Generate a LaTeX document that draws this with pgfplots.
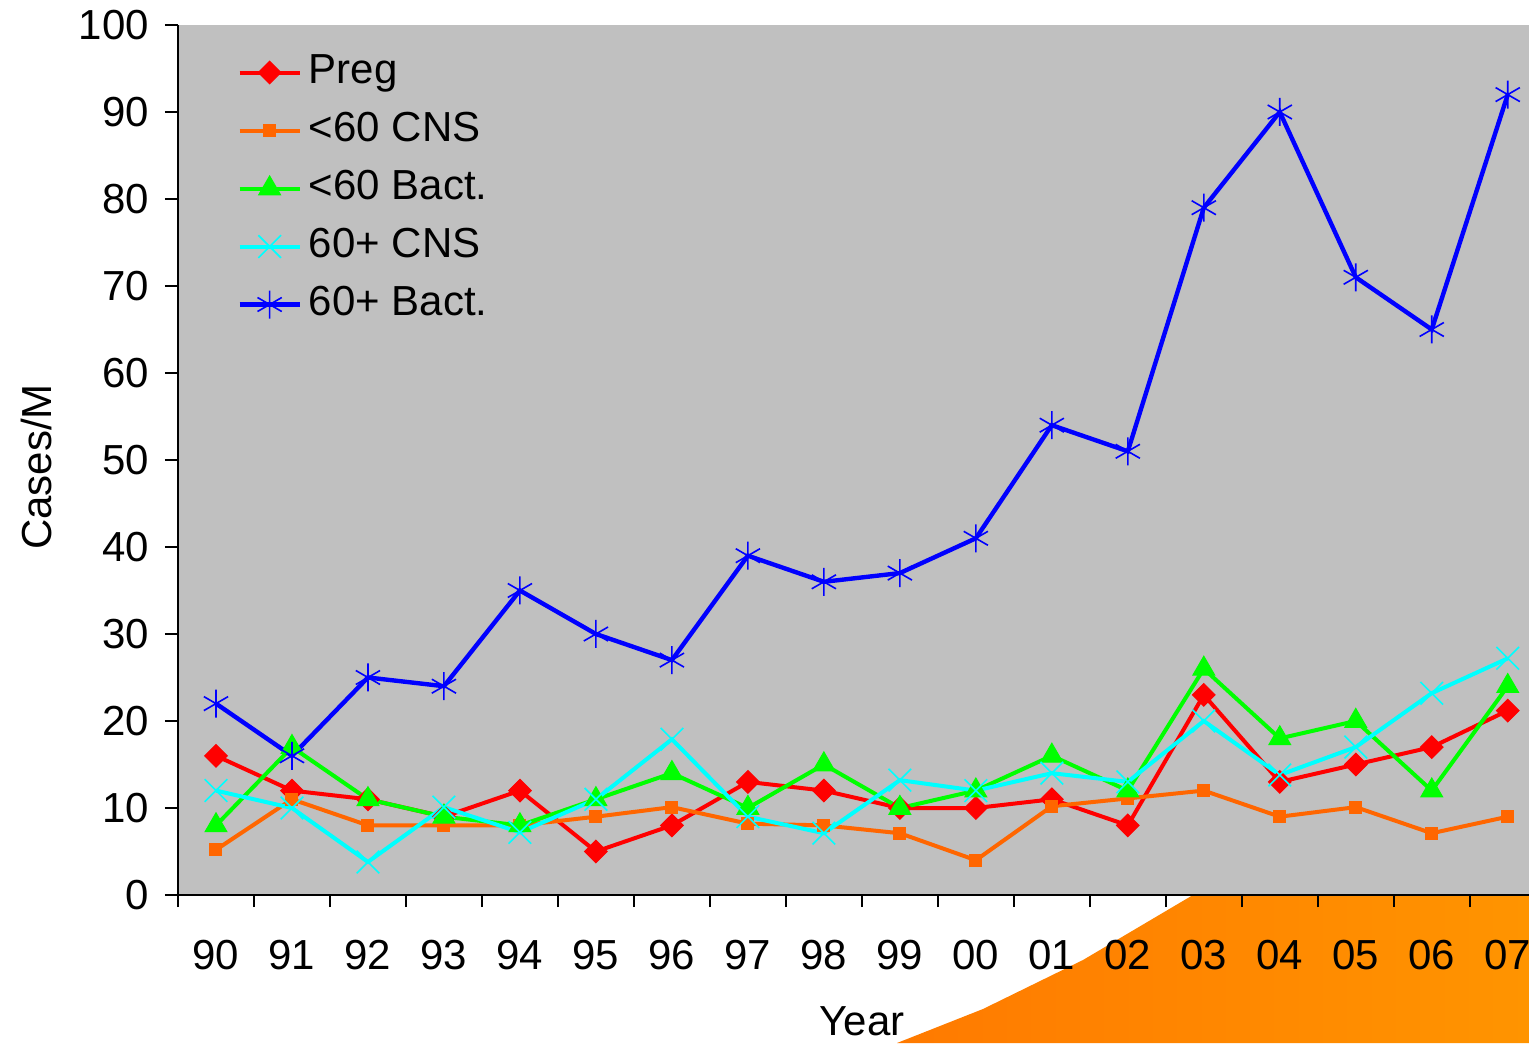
\documentclass[border=0pt]{standalone}
\usepackage{fontspec}
\setmainfont{Liberation Sans}
\usepackage{pgfplots}
\pgfplotsset{compat=1.18}
\definecolor{bggray}{RGB}{192,192,192}
\definecolor{cred}{RGB}{255,0,0}
\definecolor{corange}{RGB}{255,102,0}
\definecolor{cgreen}{RGB}{0,255,0}
\definecolor{ccyan}{RGB}{0,255,255}
\definecolor{cblue}{RGB}{0,0,255}
\definecolor{decoA}{RGB}{255,122,0}
\definecolor{decoB}{RGB}{255,148,0}
\newcommand{\fsz}{\fontsize{21pt}{25pt}\selectfont}
\begin{document}
\begin{tikzpicture}
\useasboundingbox (-89pt,-74pt) rectangle (675.5pt,447.5pt);
\shade[left color=decoA, right color=decoB] (359.5pt,-74pt) -- (402.5pt,-57pt) -- (452.5pt,-32.5pt) -- (507.5pt,0pt) -- (675.5pt,0pt) -- (675.5pt,-74pt) -- cycle;
\begin{axis}[
  at={(0pt,0pt)}, anchor=south west,
  scale only axis, width=675.5pt, height=435pt,
  xmin=-0.5, xmax=17.28, ymin=0, ymax=100,
  axis x line*=bottom, axis y line*=left,
  axis line style={-, line width=1pt, black},
  axis background/.style={fill=bggray},
  tick align=outside,
  xtick={0,...,17},
  xticklabels={90,91,92,93,94,95,96,97,98,99,00,01,02,03,04,05,06,07},
  major x tick style={draw=none},
  minor xtick={-0.5,0.5,...,16.5},
  minor tick length=6pt,
  major tick length=6.5pt,
  ytick={0,10,...,100},
  tick style={line width=1pt, black},
  tick label style={font=\fsz},
  /pgf/number format/assume math mode=true,
  xticklabel style={yshift=-12.5pt},
  yticklabel style={xshift=-4.5pt},
  xlabel={Year},
  xlabel style={font=\fsz, at={(axis description cs:0.5063,0)}, anchor=base, yshift=-70pt},
  ylabel={Cases/M},
  ylabel style={font=\fsz, at={(axis description cs:-0.105,0.492)}, anchor=center},
  legend style={font=\fsz, draw=none, fill=none, at={(axis description cs:0.0437,0.9717)}, anchor=north west,
    inner sep=0pt, row sep=6.5pt, column sep=2pt,
    nodes={inner sep=1.5pt, text height=15pt, text depth=4.5pt}},
  legend cell align=left,
  legend image code/.code={\draw[mark repeat=2,mark phase=2] plot coordinates {(0pt,0pt) (15pt,0pt) (30pt,0pt)};},
]
\addplot[cred, line width=2pt, mark=square*, mark size=4pt, mark options={rotate=45, solid, fill=cred, line width=0.5pt}]
  coordinates {(0,16) (1,12) (2,11) (3,9) (4,12) (5,5) (6,8) (7,13) (8,12) (9,10) (10,10) (11,11) (12,8) (13,23) (14,13) (15,15) (16,17) (17,21.2)};
\addlegendentry{Preg}
\addplot[corange, line width=2pt, mark=square*, mark size=3pt, mark options={solid, fill=corange, line width=0.5pt}]
  coordinates {(0,5.2) (1,11) (2,8) (3,8) (4,8) (5,9) (6,10.1) (7,8.2) (8,8) (9,7.1) (10,4) (11,10.2) (12,11.1) (13,12) (14,9) (15,10.1) (16,7.1) (17,9)};
\addlegendentry{<60 CNS}
\addplot[cgreen, line width=2pt, mark=triangle*, mark size=6.3pt, mark options={solid, fill=cgreen, line width=0.5pt}]
  coordinates {(0,8) (1,17) (2,11) (3,9) (4,8) (5,11) (6,14) (7,10) (8,15) (9,10) (10,12) (11,16) (12,12) (13,26) (14,18) (15,20) (16,12) (17,24)};
\addlegendentry{<60 Bact.}
\addplot[ccyan, line width=2pt, mark=x, mark size=8pt, mark options={solid, line width=0.8pt}]
  coordinates {(0,12) (1,10) (2,3.8) (3,10.1) (4,7.2) (5,11) (6,17.9) (7,9) (8,7.1) (9,13.2) (10,12) (11,14) (12,13) (13,20) (14,13.8) (15,17) (16,23.2) (17,27.2)};
\addlegendentry{60+ CNS}
\addplot[cblue, line width=2.2pt, mark=asterisk, mark size=7pt, mark options={solid, line width=0.8pt}]
  coordinates {(0,22) (1,16) (2,25) (3,24) (4,35) (5,30) (6,27) (7,39) (8,36) (9,37) (10,41) (11,54) (12,51) (13,79) (14,90) (15,71) (16,65) (17,92)};
\addlegendentry{60+ Bact.}
\end{axis}
\end{tikzpicture}
\end{document}
